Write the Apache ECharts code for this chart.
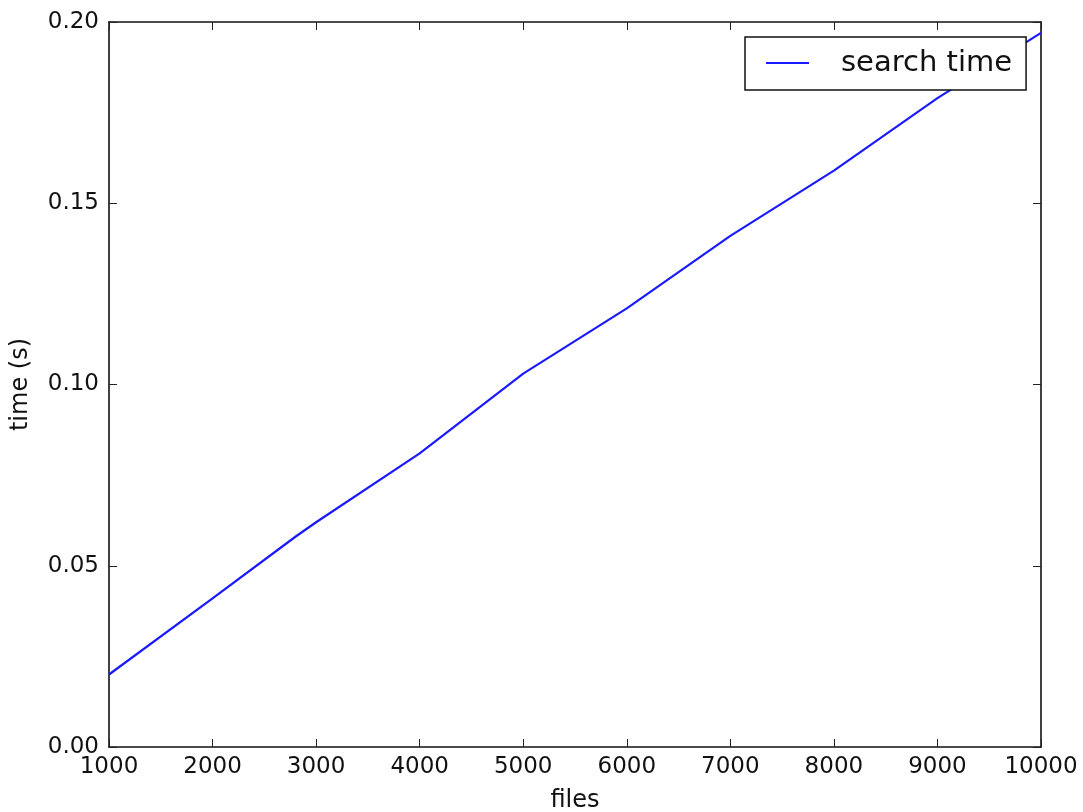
<!DOCTYPE html>
<html>
<head>
<meta charset="utf-8">
<script src="https://cdn.jsdelivr.net/npm/echarts@6/dist/echarts.min.js"></script>
<style>html,body{margin:0;padding:0;background:#fff}#c{width:1083px;height:812px}</style>
</head>
<body>
<div id="c"></div>
<script>
var files = [1000, 2000, 2800, 3000, 4000, 5000, 6000, 7000, 8000, 9000, 10000];
var searchTime = [0.020, 0.041, 0.058, 0.062, 0.081, 0.103, 0.121, 0.141, 0.159, 0.179, 0.197];
var seriesName = 'search time';
var xName = 'files';
var yName = 'time (s)';

var pts = files.map(function (f, i) { return [f, searchTime[i]]; });
var font = 'DejaVu Sans';
var tickIn = { show: true, inside: true, length: 8, lineStyle: { color: '#222', width: 1 } };
var lineStyleAx = { show: true, onZero: false, lineStyle: { color: '#111', width: 1.6 } };

var chart = echarts.init(document.getElementById('c'), null, { renderer: 'canvas' });
chart.setOption({
  animation: false,
  backgroundColor: '#fff',
  grid: { left: 109, right: 42, top: 22, bottom: 65, containLabel: false, outerBoundsMode: 'none' },
  legend: {
    left: 745, top: 37,
    padding: [8, 14, 9, 21],
    backgroundColor: '#fff',
    borderColor: '#111', borderWidth: 1.5, borderRadius: 0,
    icon: 'rect', itemWidth: 43, itemHeight: 2,
    textStyle: { fontFamily: font, fontSize: 29, color: '#111', padding: [0, 0, 0, 27], lineHeight: 36 },
    data: [seriesName]
  },
  xAxis: [{
    type: 'value', min: 1000, max: 10000, interval: 1000, position: 'bottom',
    name: xName, nameLocation: 'middle', nameGap: 42,
    nameTextStyle: { fontFamily: font, fontSize: 24, color: '#111' },
    axisLine: lineStyleAx, axisTick: tickIn, splitLine: { show: false },
    axisLabel: { fontFamily: font, fontSize: 23, color: '#111', margin: 9,
      formatter: function (v) { return String(v); } }
  }, {
    type: 'value', min: 1000, max: 10000, interval: 1000, position: 'top',
    axisLine: lineStyleAx, axisTick: tickIn, splitLine: { show: false },
    axisLabel: { show: false }
  }],
  yAxis: [{
    type: 'value', min: 0, max: 0.2, interval: 0.05, position: 'left',
    name: yName, nameLocation: 'middle', nameGap: 76,
    nameTextStyle: { fontFamily: font, fontSize: 24, color: '#111' },
    axisLine: lineStyleAx, axisTick: tickIn, splitLine: { show: false },
    axisLabel: { fontFamily: font, fontSize: 23, color: '#111', margin: 10,
      formatter: function (v) { return v.toFixed(2); } }
  }, {
    type: 'value', min: 0, max: 0.2, interval: 0.05, position: 'right',
    axisLine: lineStyleAx, axisTick: tickIn, splitLine: { show: false },
    axisLabel: { show: false }
  }],
  series: [{
    name: seriesName, type: 'line', data: pts,
    showSymbol: false, symbol: 'none',
    lineStyle: { color: '#1a1aff', width: 2.2 },
    itemStyle: { color: '#1a1aff' },
    z: 1
  }]
});
</script>
</body>
</html>
